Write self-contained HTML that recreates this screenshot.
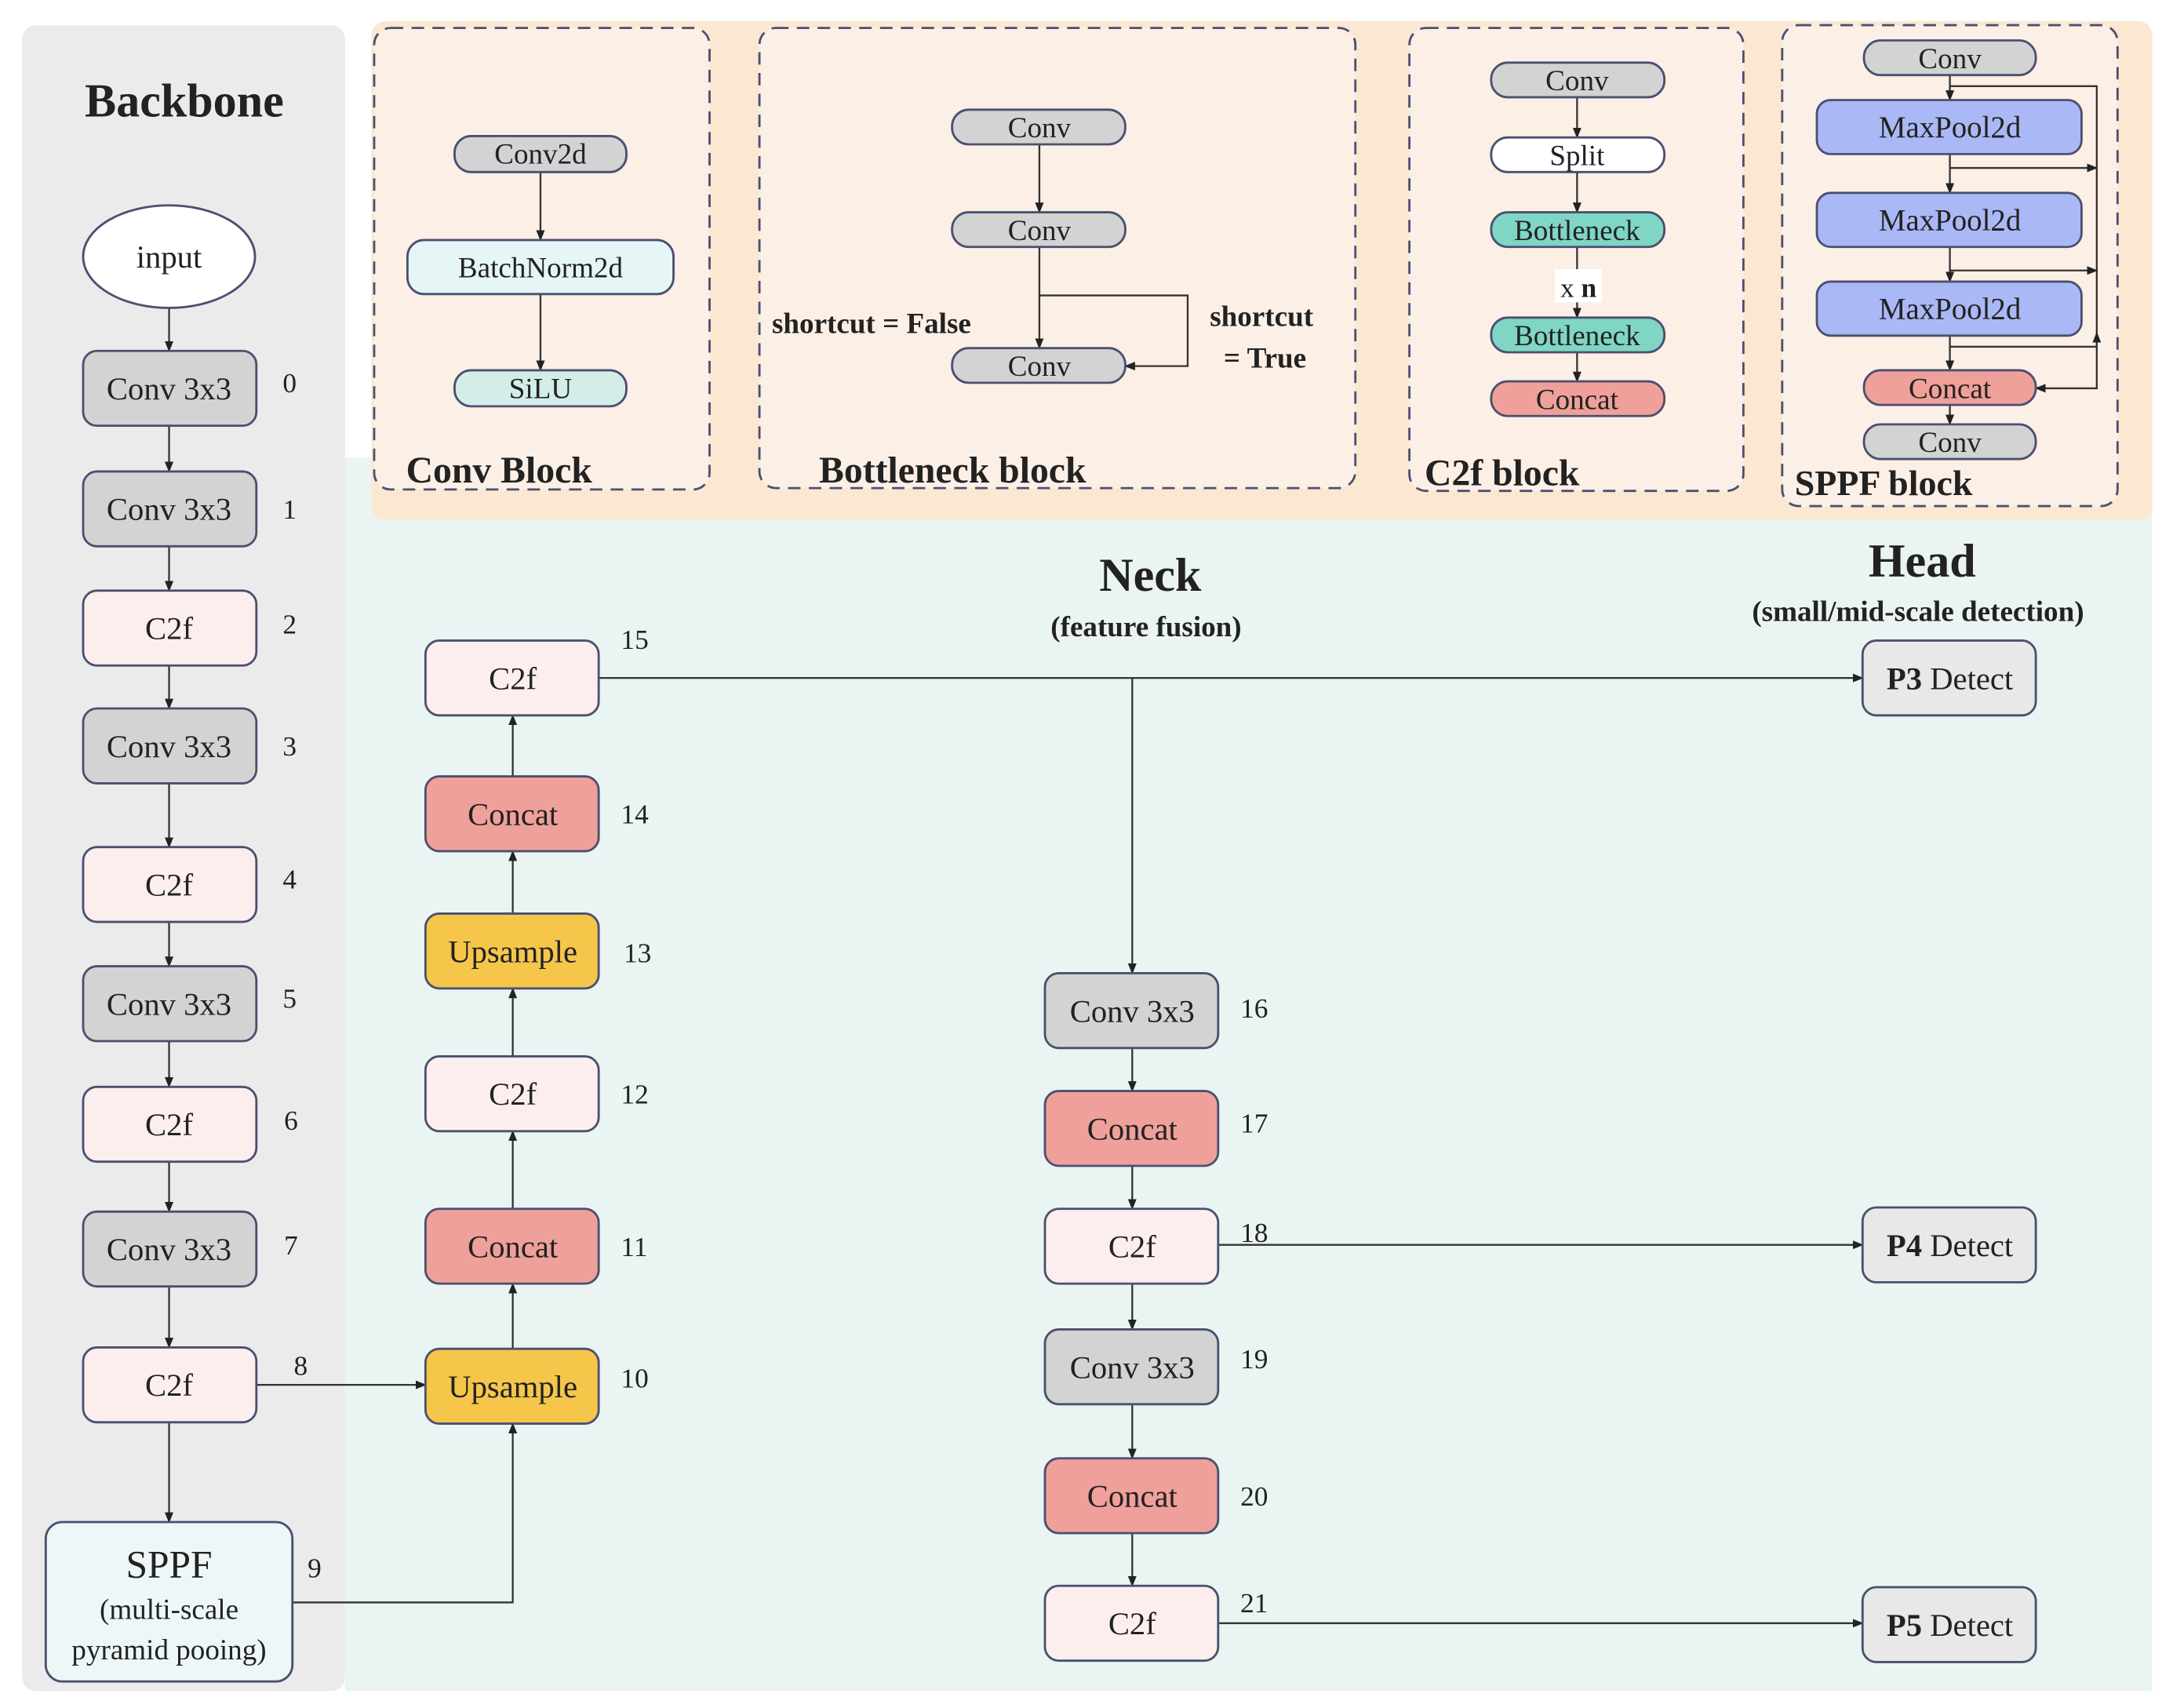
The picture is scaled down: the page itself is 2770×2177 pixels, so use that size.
<!DOCTYPE html>
<html><head><meta charset="utf-8"><style>
html,body{margin:0;padding:0;background:#fff;}
svg{display:block;}
svg text{font-family:"Liberation Serif","Times New Roman","Nimbus Roman","DejaVu Serif",serif;fill:#222;}
</style></head><body>
<svg width="2770" height="2177" viewBox="0 0 1568 1232" xmlns="http://www.w3.org/2000/svg" font-family="'Liberation Serif','Times New Roman','DejaVu Serif',serif">
<defs>
<marker id="a" viewBox="0 0 10 10" refX="9" refY="5" markerWidth="6" markerHeight="6" orient="auto"><path d="M0,1 L10,5 L0,9 z" fill="#222"/></marker>
</defs>
<rect width="1568" height="1232" fill="#fff"/>
<rect x="249" y="330" width="1304" height="890" fill="#eaf4f2"/>
<rect x="16" y="18" width="233" height="1202" rx="10" fill="#ebebeb"/>
<rect x="268" y="15" width="1285" height="360" rx="10" fill="#fce8d2"/>
<g fill="#fcefe6" stroke="#4a5070" stroke-width="1.6" stroke-dasharray="9,6">
<rect x="270" y="20" width="242" height="333" rx="12"/>
<rect x="548" y="20" width="430" height="332" rx="12"/>
<rect x="1017" y="20" width="241" height="334" rx="12"/>
<rect x="1286" y="18" width="242" height="347" rx="12"/>
</g>
<g font-weight="bold">
<text x="133" y="84" font-size="34" text-anchor="middle">Backbone</text>
<text x="293" y="348" font-size="27">Conv Block</text>
<text x="591" y="348" font-size="27">Bottleneck block</text>
<text x="1028" y="350" font-size="27">C2f block</text>
<text x="1295" y="357" font-size="26">SPPF block</text>
<text x="830" y="426" font-size="34" text-anchor="middle">Neck</text>
<text x="827" y="459" font-size="21" text-anchor="middle">(feature fusion)</text>
<text x="1387" y="416" font-size="34" text-anchor="middle">Head</text>
<text x="1384" y="448" font-size="21" text-anchor="middle">(small/mid-scale detection)</text>
<text x="557" y="240" font-size="21">shortcut = False</text>
<text x="873" y="235" font-size="21">shortcut</text>
<text x="883" y="265" font-size="21">= True</text>
</g>
<g stroke="#333" stroke-width="1.3" fill="none" marker-end="url(#a)">
<line x1="122" y1="222" x2="122" y2="253"/>
<line x1="122" y1="307" x2="122" y2="340"/>
<line x1="122" y1="394" x2="122" y2="426"/>
<line x1="122" y1="480" x2="122" y2="511"/>
<line x1="122" y1="565" x2="122" y2="611"/>
<line x1="122" y1="665" x2="122" y2="697"/>
<line x1="122" y1="751" x2="122" y2="784"/>
<line x1="122" y1="838" x2="122" y2="874"/>
<line x1="122" y1="928" x2="122" y2="972"/>
<line x1="122" y1="1026" x2="122" y2="1098"/>
<line x1="185" y1="999" x2="307" y2="999"/>
<polyline points="211,1156 370,1156 370,1027"/>
<line x1="370" y1="973" x2="370" y2="926"/>
<line x1="370" y1="872" x2="370" y2="816"/>
<line x1="370" y1="762" x2="370" y2="713"/>
<line x1="370" y1="659" x2="370" y2="614"/>
<line x1="370" y1="560" x2="370" y2="516"/>
<line x1="432" y1="489" x2="1344" y2="489"/>
<line x1="817" y1="489" x2="817" y2="702"/>
<line x1="817" y1="756" x2="817" y2="787"/>
<line x1="817" y1="841" x2="817" y2="872"/>
<line x1="817" y1="926" x2="817" y2="959"/>
<line x1="817" y1="1013" x2="817" y2="1052"/>
<line x1="817" y1="1106" x2="817" y2="1144"/>
<line x1="879" y1="898" x2="1344" y2="898"/>
<line x1="879" y1="1171" x2="1344" y2="1171"/>
<line x1="390" y1="124" x2="390" y2="173"/>
<line x1="390" y1="212" x2="390" y2="267"/>
<line x1="750" y1="104" x2="750" y2="153"/>
<line x1="750" y1="178" x2="750" y2="251"/>
<polyline points="750,213 857,213 857,264 812,264"/>
<line x1="1138" y1="70" x2="1138" y2="99"/>
<line x1="1138" y1="124" x2="1138" y2="153"/>
<line x1="1138" y1="178" x2="1138" y2="229"/>
<line x1="1138" y1="254" x2="1138" y2="275"/>
<line x1="1407" y1="54" x2="1407" y2="72"/>
<line x1="1407" y1="111" x2="1407" y2="139"/>
<line x1="1407" y1="178" x2="1407" y2="203"/>
<line x1="1407" y1="242" x2="1407" y2="267"/>
<line x1="1407" y1="292" x2="1407" y2="306"/>
<polyline points="1407,62 1513,62 1513,280 1469,280"/>
<line x1="1407" y1="121" x2="1513" y2="121"/>
<line x1="1407" y1="195" x2="1513" y2="195"/>
<polyline points="1407,250 1513,250 1513,240"/>
</g>
<rect x="1122" y="194" width="34" height="24" fill="#fff"/>
<text x="1139" y="214" font-size="20" text-anchor="middle">x <tspan font-weight="bold">n</tspan></text>
<g stroke="#4a5070" stroke-width="1.6">
<ellipse cx="122" cy="185" rx="62" ry="37" fill="#fff"/>
<rect x="60" y="253" width="125" height="54" rx="10" fill="#d3d3d3"/>
<rect x="60" y="340" width="125" height="54" rx="10" fill="#d3d3d3"/>
<rect x="60" y="426" width="125" height="54" rx="10" fill="#fdeeee"/>
<rect x="60" y="511" width="125" height="54" rx="10" fill="#d3d3d3"/>
<rect x="60" y="611" width="125" height="54" rx="10" fill="#fdeeee"/>
<rect x="60" y="697" width="125" height="54" rx="10" fill="#d3d3d3"/>
<rect x="60" y="784" width="125" height="54" rx="10" fill="#fdeeee"/>
<rect x="60" y="874" width="125" height="54" rx="10" fill="#d3d3d3"/>
<rect x="60" y="972" width="125" height="54" rx="10" fill="#fdeeee"/>
<rect x="33" y="1098" width="178" height="115" rx="12" fill="#eef7f7"/>
<rect x="307" y="462" width="125" height="54" rx="10" fill="#fdeeee"/>
<rect x="307" y="560" width="125" height="54" rx="10" fill="#f0a09a"/>
<rect x="307" y="659" width="125" height="54" rx="10" fill="#f5c64a"/>
<rect x="307" y="762" width="125" height="54" rx="10" fill="#fdeeee"/>
<rect x="307" y="872" width="125" height="54" rx="10" fill="#f0a09a"/>
<rect x="307" y="973" width="125" height="54" rx="10" fill="#f5c64a"/>
<rect x="754" y="702" width="125" height="54" rx="10" fill="#d3d3d3"/>
<rect x="754" y="787" width="125" height="54" rx="10" fill="#f0a09a"/>
<rect x="754" y="872" width="125" height="54" rx="10" fill="#fdeeee"/>
<rect x="754" y="959" width="125" height="54" rx="10" fill="#d3d3d3"/>
<rect x="754" y="1052" width="125" height="54" rx="10" fill="#f0a09a"/>
<rect x="754" y="1144" width="125" height="54" rx="10" fill="#fdeeee"/>
<rect x="1344" y="462" width="125" height="54" rx="10" fill="#e8e8e8"/>
<rect x="1344" y="871" width="125" height="54" rx="10" fill="#e8e8e8"/>
<rect x="1344" y="1145" width="125" height="54" rx="10" fill="#e8e8e8"/>
<rect x="328" y="98" width="124" height="26" rx="12" fill="#d3d3d3"/>
<rect x="294" y="173" width="192" height="39" rx="12" fill="#e6f5f5"/>
<rect x="328" y="267" width="124" height="26" rx="12" fill="#d3eee8"/>
<rect x="687" y="79" width="125" height="25" rx="12" fill="#d3d3d3"/>
<rect x="687" y="153" width="125" height="25" rx="12" fill="#d3d3d3"/>
<rect x="687" y="251" width="125" height="25" rx="12" fill="#d3d3d3"/>
<rect x="1076" y="45" width="125" height="25" rx="12" fill="#d3d3d3"/>
<rect x="1076" y="99" width="125" height="25" rx="12" fill="#fff"/>
<rect x="1076" y="153" width="125" height="25" rx="12" fill="#7fd6c4"/>
<rect x="1076" y="229" width="125" height="25" rx="12" fill="#7fd6c4"/>
<rect x="1076" y="275" width="125" height="25" rx="12" fill="#f0a09a"/>
<rect x="1345" y="29" width="124" height="25" rx="12" fill="#d3d3d3"/>
<rect x="1311" y="72" width="191" height="39" rx="10" fill="#aab8f5"/>
<rect x="1311" y="139" width="191" height="39" rx="10" fill="#aab8f5"/>
<rect x="1311" y="203" width="191" height="39" rx="10" fill="#aab8f5"/>
<rect x="1345" y="267" width="124" height="25" rx="12" fill="#f0a09a"/>
<rect x="1345" y="306" width="124" height="25" rx="12" fill="#d3d3d3"/>
</g>
<g font-size="23" text-anchor="middle">
<text x="122" y="193">input</text>
<text x="122" y="288">Conv 3x3</text>
<text x="122" y="375">Conv 3x3</text>
<text x="122" y="461">C2f</text>
<text x="122" y="546">Conv 3x3</text>
<text x="122" y="646">C2f</text>
<text x="122" y="732">Conv 3x3</text>
<text x="122" y="819">C2f</text>
<text x="122" y="909">Conv 3x3</text>
<text x="122" y="1007">C2f</text>
<text x="122" y="1138" font-size="28">SPPF</text>
<text x="122" y="1168" font-size="21">(multi-scale</text>
<text x="122" y="1197" font-size="21">pyramid pooing)</text>
<text x="370" y="497">C2f</text>
<text x="370" y="595">Concat</text>
<text x="370" y="694">Upsample</text>
<text x="370" y="797">C2f</text>
<text x="370" y="907">Concat</text>
<text x="370" y="1008">Upsample</text>
<text x="817" y="737">Conv 3x3</text>
<text x="817" y="822">Concat</text>
<text x="817" y="907">C2f</text>
<text x="817" y="994">Conv 3x3</text>
<text x="817" y="1087">Concat</text>
<text x="817" y="1179">C2f</text>
<text x="1407" y="497"><tspan font-weight="bold">P3</tspan> Detect</text>
<text x="1407" y="906"><tspan font-weight="bold">P4</tspan> Detect</text>
<text x="1407" y="1180"><tspan font-weight="bold">P5</tspan> Detect</text>
<text x="390" y="118" font-size="21">Conv2d</text>
<text x="390" y="200" font-size="21">BatchNorm2d</text>
<text x="390" y="287" font-size="21">SiLU</text>
<text x="750" y="99" font-size="21">Conv</text>
<text x="750" y="173" font-size="21">Conv</text>
<text x="750" y="271" font-size="21">Conv</text>
<text x="1138" y="65" font-size="21">Conv</text>
<text x="1138" y="119" font-size="21">Split</text>
<text x="1138" y="173" font-size="21">Bottleneck</text>
<text x="1138" y="249" font-size="21">Bottleneck</text>
<text x="1138" y="295" font-size="21">Concat</text>
<text x="1407" y="49" font-size="21">Conv</text>
<text x="1407" y="99" font-size="22">MaxPool2d</text>
<text x="1407" y="166" font-size="22">MaxPool2d</text>
<text x="1407" y="230" font-size="22">MaxPool2d</text>
<text x="1407" y="287" font-size="21">Concat</text>
<text x="1407" y="326" font-size="21">Conv</text>
</g>
<g font-size="20">
<text x="204" y="283">0</text><text x="204" y="374">1</text><text x="204" y="457">2</text>
<text x="204" y="545">3</text><text x="204" y="641">4</text><text x="204" y="727">5</text>
<text x="205" y="815">6</text><text x="205" y="905">7</text><text x="212" y="992">8</text>
<text x="222" y="1138">9</text>
<text x="448" y="468">15</text><text x="448" y="594">14</text><text x="450" y="694">13</text>
<text x="448" y="796">12</text><text x="448" y="906">11</text><text x="448" y="1001">10</text>
<text x="895" y="734">16</text><text x="895" y="817">17</text><text x="895" y="896">18</text>
<text x="895" y="987">19</text><text x="895" y="1086">20</text><text x="895" y="1163">21</text>
</g>
</svg>
</body></html>
